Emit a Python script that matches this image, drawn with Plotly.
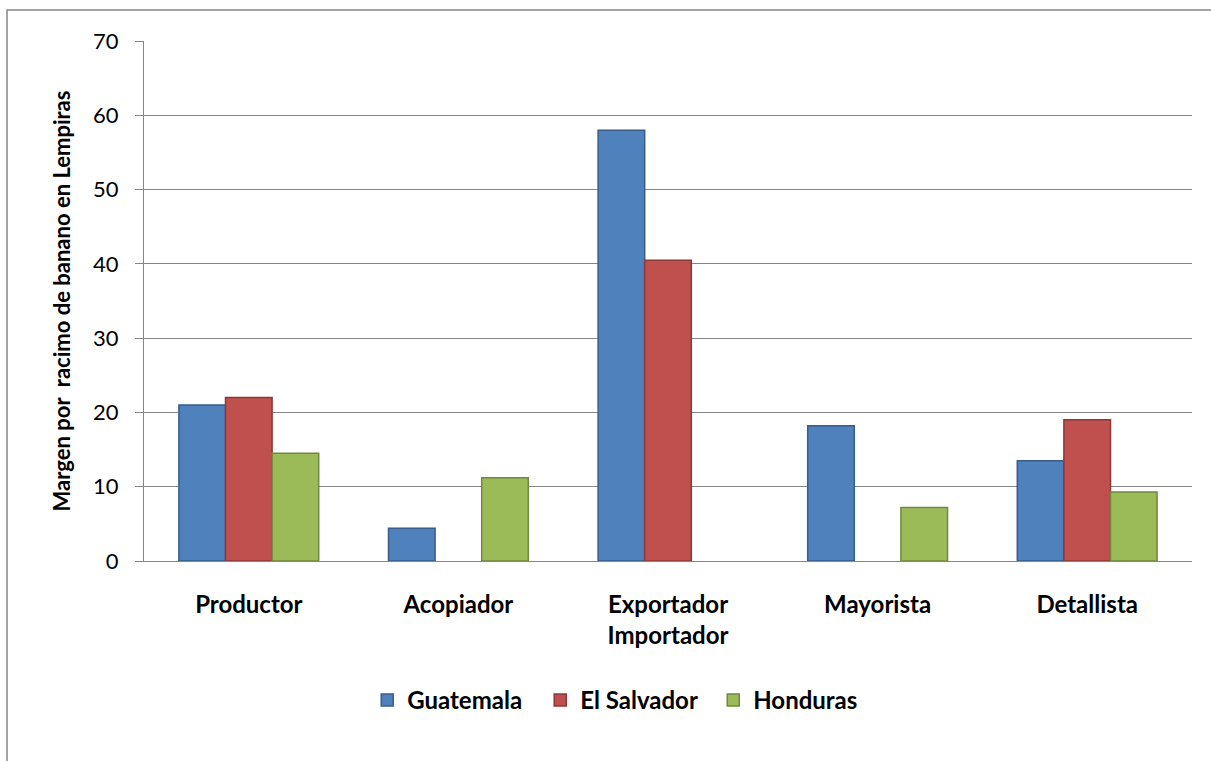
import plotly.graph_objects as go

# Marketing margin per banana bunch, by actor in the chain and country
categories = ["Productor", "Acopiador", "Exportador<br>Importador", "Mayorista", "Detallista"]
guatemala = [21.0, 4.4, 58.0, 18.2, 13.5]
el_salvador = [22.0, None, 40.5, None, 19.0]
honduras = [14.5, 11.2, None, 7.2, 9.3]
y_ticks = [0, 10, 20, 30, 40, 50, 60, 70]

FONT = "Lato"
GRID = "#868686"

series = [
    ("Guatemala", guatemala, "#4F81BD", "#385D8A"),
    ("El Salvador", el_salvador, "#C0504D", "#8C3836"),
    ("Honduras", honduras, "#9BBB59", "#71893F"),
]

fig = go.Figure()
for name, vals, fill, edge in series:
    fig.add_trace(go.Bar(
        x=categories, y=vals, name=name,
        marker=dict(color=fill, line=dict(color=edge, width=1.5)),
    ))

W, H = 1211, 761
L, R, T, B = 144, 19, 41, 200
pw, ph = W - L - R, H - T - B

fig.update_layout(
    width=W, height=H,
    margin=dict(l=L, r=R, t=T, b=B),
    paper_bgcolor="white", plot_bgcolor="white",
    barmode="group", bargap=0.333, bargroupgap=0,
    font=dict(family=FONT, color="black"),
    showlegend=True,
    legend=dict(
        orientation="h", x=0.213, xanchor="left", y=-0.268, yanchor="middle",
        font=dict(family=FONT, size=24, color="black", weight="bold"),
        entrywidth=128, entrywidthmode="pixels",
        bgcolor="rgba(0,0,0,0)",
    ),
    xaxis=dict(
        type="category",
        showgrid=False,
        showline=True, linecolor=GRID, linewidth=1,
        ticks="",
        tickfont=dict(family=FONT, size=24, color="black", weight="bold"),
        ticklabelstandoff=22,
    ),
    yaxis=dict(
        range=[0, 70], tickvals=y_ticks,
        showgrid=True, gridcolor=GRID, gridwidth=1,
        showline=True, linecolor=GRID, linewidth=1,
        zeroline=False,
        ticks="outside", ticklen=8, tickcolor=GRID,
        tickfont=dict(family=FONT, size=22, color="black"),
        ticklabelstandoff=12,
        title=dict(
            text="Margen por  racimo de banano en Lempiras",
            font=dict(family=FONT, size=22, color="black", weight="bold"),
            standoff=16,
        ),
    ),
)

# Chart-area frame
fig.add_shape(
    type="rect", xref="paper", yref="paper",
    x0=(7 - L) / pw, x1=(W + 20 - L) / pw,
    y0=(H - B - (H + 20)) / ph, y1=(H - B - 10) / ph,
    line=dict(color=GRID, width=1.5), fillcolor="rgba(0,0,0,0)",
    layer="below",
)

fig.write_html("out.html")
